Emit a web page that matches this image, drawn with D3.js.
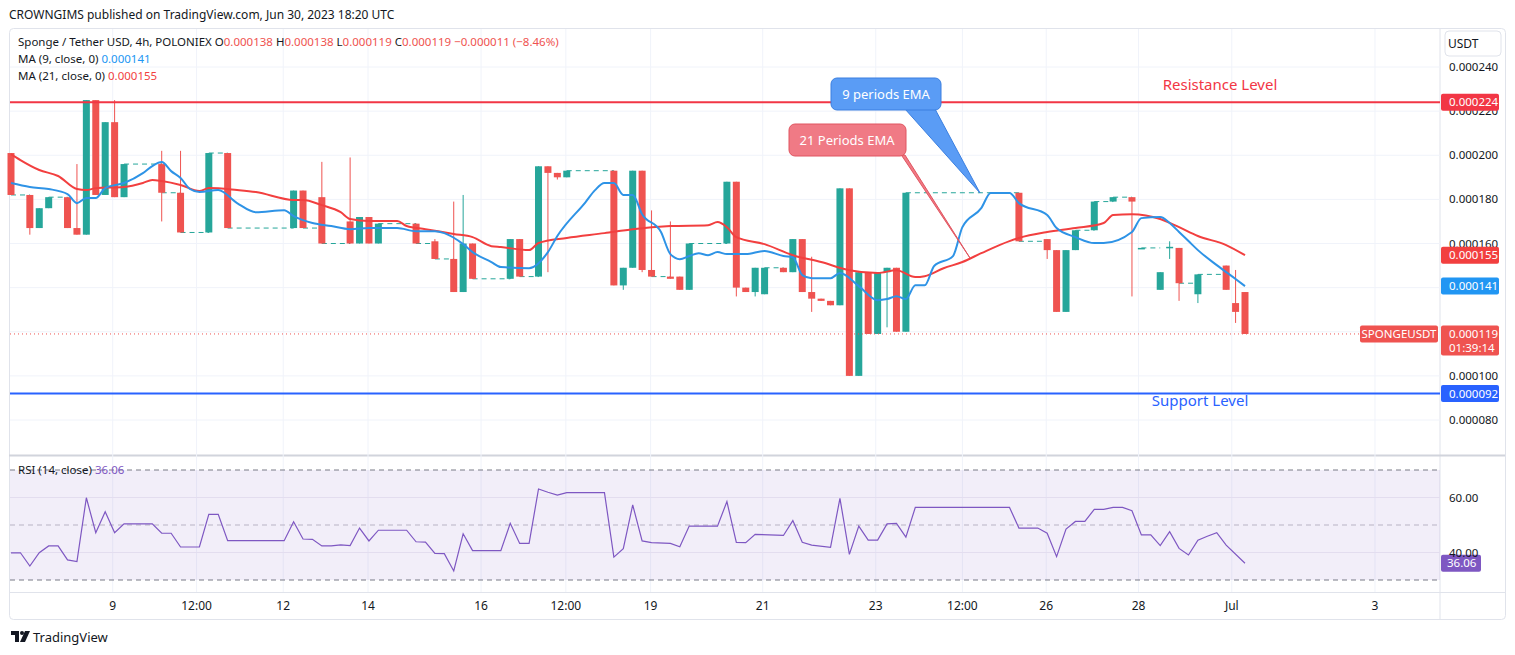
<!DOCTYPE html>
<html>
<head>
<meta charset="utf-8">
<script src="https://cdn.jsdelivr.net/npm/d3@7"></script>
<style>
  body { margin: 0; background: #fff; font-family: "Noto Sans", "DejaVu Sans", sans-serif; }
</style>
</head>
<body>
<div id="chart"></div>
<script>
// prices in millionths of USDT (µ), x as 4h bar index
var barIdx = [0,2,3,4,6,7,8,9,10,11,12,16,18,21,23,30,31,33,36,37,38,39,43,45,47,48,49,53,54,56,57,58,59,64,65,66,67,68,70,71,72,76,77,78,79,80,82,83,84,85,86,87,88,89,90,91,92,93,94,95,107,110,111,112,113,115,117,119,120,122,123,124,126,129,130,131];
var opens  = [201,182,167,176,181,167,164,225,182,215,181,196,183,165,201,167,184,181,170,160,172,160,169,161,153,138,160,144,162,145,195,192,190,193,141,149,193,148,145,145,139,160,188,140,138,137,149,147,162,138,135,134,132,185,100,147,119,147,149,120,183,162,157,129,157,166,179,181,158,139,158,158,137,150,133,138];
var highs  = [201,182,176,181,181,196,225,225,215,225,196,202,202,201,201,184,184,197,199,172,172,169,169,162,179,182,160,162,162,195,195,192,193,193,149,193,193,175,170,145,160,188,188,140,149,149,149,162,162,154,135,134,185,185,147,147,147,149,149,183,183,162,157,157,166,179,181,181,158,147,161,158,146,150,148,138];
var lows   = [182,164,167,176,167,164,164,182,182,181,181,170,165,165,167,167,167,160,160,160,160,160,160,153,138,138,144,144,145,145,147,189,190,141,139,149,147,145,144,139,139,160,136,138,136,137,147,147,138,129,134,132,132,100,100,119,119,122,120,120,161,153,129,129,157,166,179,136,158,139,153,134,133,139,124,119];
var closes = [182,167,176,181,167,164,225,182,215,181,196,183,165,201,167,184,167,160,160,172,160,169,160,153,138,160,144,162,145,195,192,190,193,141,149,193,148,145,144,139,160,188,140,138,149,149,147,162,138,135,134,132,185,100,147,119,147,149,120,183,161,157,129,157,166,179,181,179,158,147,158.5,142,146,139,129,119];

var ma9Idx  = [0,2,4,6,7,8,9,10,12,14,15,16,17,18,19,20,22,24,26,29,30,32,34,36,38,41,43,45,46,48,49,51,52,55,57,58,61,62,63,64,65,66,67,69,70,71,72,73,74,75,76,78,80,82,83,84,85,87,88,90,92,93,94,95,96,97,98,100,101,103,104,106,107,110,111,113,115,116,119,120,122,123,124,125,126,128,130,131];
var ma9Vals = [187.4,185.6,184.7,182.4,178.3,180.6,180.6,185.1,187.4,191.9,195.1,196.9,192.8,189.7,184.7,183.3,184.2,178.3,174.2,175.1,172.4,169.3,167.9,166.5,167,167,165.6,165.6,164.7,159.7,156.1,151.6,149.3,148.8,156.1,163.4,178.8,184.2,187.4,187.4,182,182,173.3,165.2,155.2,152.9,154.3,155.6,154.7,156.1,155.2,155.2,156.6,154.3,153.8,145.7,144.3,144.3,146.6,140.7,134.3,134.8,136.1,134.8,141.1,141.1,149.8,154.3,167.4,176,182.9,182.9,178.3,172.9,167,162.9,160.2,160.2,165.2,171.5,172,169.3,165.2,161.1,157,150.2,143.9,140.7];
var ma21Idx  = [0,1,3,5,7,8,9,12,14,15,16,18,20,21,24,26,30,31,33,35,36,38,41,42,44,47,49,51,52,55,56,59,63,66,70,74,75,76,77,80,83,86,89,92,94,96,97,99,101,103,106,107,110,113,116,117,119,122,124,126,129,131];
var ma21Vals = [200.5,197.8,193.3,190.6,184.7,184.2,185.1,185.6,187.4,188.8,188.3,186.5,183.8,185.1,184.2,183.3,179.7,179.7,177.4,174.2,171.1,170.2,170.2,167.9,166.5,164.3,162.9,158.8,158.4,157,160.2,162.5,164.7,166.5,167.9,168.3,169.7,167.4,162.9,159.7,154.7,151.6,147.9,146.6,147.9,144.8,145.2,148.8,151.6,155.6,161.1,162.5,165.2,167,169.3,172.9,173.3,171.1,167.4,163.4,159.3,154.7];

var rsiIdx  = [0,1,2,3,4,5,6,7,8,9,10,11,12,15,16,17,18,20,21,22,23,29,30,31,32,33,34,35,36,37,38,39,42,43,44,45,46,47,48,49,52,53,54,55,56,57,58,59,63,64,65,66,67,68,70,71,72,75,76,77,78,79,82,83,84,85,87,88,89,90,91,92,93,94,95,96,106,107,109,110,111,112,113,114,115,116,117,118,119,120,121,122,123,124,125,126,127,128,129,131];
var rsiVals = [39.9,39.9,35.1,39.9,42.4,42.4,37.3,36.7,59.9,47.2,54.8,47.2,50.4,50.4,47,47,42,42,53.9,53.9,44.3,44.3,51.2,44.9,44.8,42.4,42.4,42.8,42.5,48.9,44.2,48.1,48.1,43.9,43.8,39.7,39.6,33.3,46.8,40.7,40.7,50.6,43.3,43.3,63.1,61.9,60.9,61.8,61.8,38.3,41.4,57.3,44.2,43.6,43.3,42.1,49.6,49.6,58.5,43.7,43.6,46.6,46.2,51.6,43.7,42.7,41.9,59.7,39.3,49.6,44.5,44.5,50.4,50.6,45.6,56.4,56.4,48.9,48.9,47,38.5,48.5,51.3,51.3,55.7,55.7,56.4,56.4,55.2,46.4,46.4,42.5,47.6,41.5,39.1,44.5,45.9,47.2,42.7,36.1];

var priceTicks = [80,100,120,140,160,180,200,220,240];
var rsiTicks = [40,60];
var dateTickPos = [10.8,19.7,28.9,37.9,49.9,58.9,67.9,79.8,91.8,101,109.9,119.7,129.6,144.8];
var dateTickLabels = ["9","12:00","12","14","16","12:00","19","21","23","12:00","26","28","Jul","3"];

var resistance = 224, support = 92, lastPrice = 119;

var W = 1515, H = 655;
var green = "#26a69a", red = "#ef5350";
var svg = d3.select("#chart").append("svg").attr("width", W).attr("height", H)
  .style("font-family", "'Noto Sans', 'DejaVu Sans', sans-serif");

var x = d3.scaleLinear().domain([0, 131]).range([11, 1245]);
var y = d3.scaleLinear().domain([80, 240]).range([420, 67]);
var yr = d3.scaleLinear().domain([30, 70]).range([580, 470]);
var fmt = function(v) { return (v * 1e-6).toFixed(6); };

var L = 10, R = 1440;

// frame
svg.append("rect").attr("x", 9.5).attr("y", 28.5).attr("width", 1496).attr("height", 591)
  .attr("rx", 4).attr("fill", "none").attr("stroke", "#e0e3eb");
svg.append("line").attr("x1", R).attr("x2", R).attr("y1", 28).attr("y2", 620).attr("stroke", "#e0e3eb");
svg.append("line").attr("x1", 9).attr("x2", 1505).attr("y1", 455.5).attr("y2", 455.5).attr("stroke", "#d1d4dc").attr("stroke-width", 2);
svg.append("line").attr("x1", 9).attr("x2", 1505).attr("y1", 592.5).attr("y2", 592.5).attr("stroke", "#e0e3eb");

// grid
var grid = svg.append("g").attr("stroke", "#f0f3fa");
grid.selectAll(".gy").data(priceTicks).enter().append("line")
  .attr("x1", L).attr("x2", R).attr("y1", function(d) { return y(d); }).attr("y2", function(d) { return y(d); });
grid.selectAll(".gx").data(dateTickPos).enter().append("line")
  .attr("x1", function(d) { return x(d); }).attr("x2", function(d) { return x(d); })
  .attr("y1", 29).attr("y2", 592);

// rsi pane
svg.append("rect").attr("x", L).attr("width", R - L).attr("y", yr(70)).attr("height", yr(30) - yr(70))
  .attr("fill", "rgba(126,87,194,0.1)");
svg.selectAll(".rg").data(rsiTicks).enter().append("line")
  .attr("x1", L).attr("x2", R).attr("y1", function(d) { return yr(d); }).attr("y2", function(d) { return yr(d); })
  .attr("stroke", "#e3ddef");
[[70, "#787b86"], [50, "#b8b3c4"], [30, "#787b86"]].forEach(function(b) {
  svg.append("line").attr("x1", L).attr("x2", R).attr("y1", yr(b[0])).attr("y2", yr(b[0]))
    .attr("stroke", b[1]).attr("stroke-dasharray", "5,4");
});
svg.append("path").datum(rsiIdx.map(function(d, i) { return [d, rsiVals[i]]; }))
  .attr("fill", "none").attr("stroke", "#7e57c2").attr("stroke-width", 1.2)
  .attr("d", d3.line().x(function(d) { return x(d[0]); }).y(function(d) { return yr(d[1]); }));
svg.append("text").attr("x", 18).attr("y", 474).attr("font-size", 11.5).attr("fill", "#131722")
  .text("RSI (14, close)").append("tspan").attr("fill", "#7e57c2").text(" 36.06");

// gap lines (flat periods)
var gaps = svg.append("g");
barIdx.forEach(function(d, i) {
  if (i > 0 && d - barIdx[i - 1] > 1) {
    gaps.append("line").attr("x1", x(barIdx[i - 1])).attr("x2", x(d))
      .attr("y1", y(closes[i - 1])).attr("y2", y(closes[i - 1]))
      .attr("stroke", green).attr("stroke-dasharray", "5,4");
  }
});

// candles
var bw = 7;
var candles = svg.selectAll(".c").data(barIdx).enter().append("g");
candles.append("line")
  .attr("x1", function(d) { return x(d); }).attr("x2", function(d) { return x(d); })
  .attr("y1", function(d, i) { return y(highs[i]); }).attr("y2", function(d, i) { return y(lows[i]); })
  .attr("stroke", function(d, i) { return closes[i] >= opens[i] ? green : red; });
candles.append("rect")
  .attr("x", function(d) { return x(d) - bw / 2; }).attr("width", bw)
  .attr("y", function(d, i) { return y(Math.max(opens[i], closes[i])); })
  .attr("height", function(d, i) { return Math.max(1.5, Math.abs(y(opens[i]) - y(closes[i]))); })
  .attr("fill", function(d, i) { return closes[i] >= opens[i] ? green : red; });

// moving averages
function maPath(idx, vals, col) {
  svg.append("path").datum(idx.map(function(d, i) { return [d, vals[i]]; }))
    .attr("fill", "none").attr("stroke", col).attr("stroke-width", 2)
    .attr("d", d3.line().curve(d3.curveMonotoneX).x(function(d) { return x(d[0]); }).y(function(d) { return y(d[1]); }));
}
maPath(ma21Idx, ma21Vals, "#f23f3f");
maPath(ma9Idx, ma9Vals, "#2e93e6");

// levels
svg.append("line").attr("x1", L).attr("x2", R).attr("y1", y(resistance)).attr("y2", y(resistance))
  .attr("stroke", "#f23645").attr("stroke-width", 2);
svg.append("line").attr("x1", L).attr("x2", R).attr("y1", y(support)).attr("y2", y(support))
  .attr("stroke", "#2962ff").attr("stroke-width", 2);
svg.append("line").attr("x1", L).attr("x2", 1360).attr("y1", y(lastPrice)).attr("y2", y(lastPrice))
  .attr("stroke", red).attr("stroke-dasharray", "1,3");
svg.append("text").attr("x", 1220).attr("y", 90).attr("text-anchor", "middle").attr("font-size", 15)
  .attr("fill", "#f23645").text("Resistance Level");
svg.append("text").attr("x", 1200).attr("y", 406).attr("text-anchor", "middle").attr("font-size", 15)
  .attr("fill", "#2962ff").text("Support Level");

// callouts
svg.append("path").attr("d", "M880,155 L905,155 L970,258 L898,150 Z").attr("fill", "#f07a85").attr("stroke", "#e05560");
svg.append("rect").attr("x", 789).attr("y", 124).attr("width", 117).attr("height", 32).attr("rx", 6)
  .attr("fill", "#f07a85").attr("stroke", "#e05560");
svg.append("text").attr("x", 847).attr("y", 145).attr("text-anchor", "middle").attr("font-size", 13)
  .attr("fill", "#fff").text("21 Periods EMA");
svg.append("path").attr("d", "M905,109 L935,109 L980,193 Z").attr("fill", "#5a9cf5").attr("stroke", "#3a7fe0");
svg.append("rect").attr("x", 831).attr("y", 78).attr("width", 110).attr("height", 32).attr("rx", 6)
  .attr("fill", "#5a9cf5").attr("stroke", "#3a7fe0");
svg.append("text").attr("x", 886).attr("y", 99).attr("text-anchor", "middle").attr("font-size", 13)
  .attr("fill", "#fff").text("9 periods EMA");

// price axis
svg.append("rect").attr("x", 1445).attr("y", 31).attr("width", 56).attr("height", 25).attr("rx", 4)
  .attr("fill", "#fff").attr("stroke", "#e0e3eb");
svg.append("text").attr("x", 1448).attr("y", 48).attr("font-size", 12).attr("fill", "#131722").text("USDT");
svg.selectAll(".pt").data(priceTicks).enter().append("text")
  .attr("x", 1449).attr("y", function(d) { return y(d) + 4; }).attr("font-size", 11.5).attr("fill", "#131722")
  .text(function(d) { return fmt(d); });

function axisLabel(v, col, extra) {
  var h = extra ? 30 : 17;
  svg.append("rect").attr("x", 1441).attr("y", y(v) - 8.5).attr("width", 58).attr("height", h).attr("rx", 2).attr("fill", col);
  svg.append("text").attr("x", 1449).attr("y", y(v) + 4).attr("font-size", 11.5).attr("fill", "#fff").text(fmt(v));
  if (extra) svg.append("text").attr("x", 1449).attr("y", y(v) + 18).attr("font-size", 11.5).attr("fill", "#fff").text(extra);
}
axisLabel(resistance, "#f23645");
axisLabel(ma21Vals[ma21Vals.length - 1], "#f23f3f");
axisLabel(ma9Vals[ma9Vals.length - 1], "#2196f3");
axisLabel(lastPrice, "#ef5350", "01:39:14");
axisLabel(support, "#2962ff");
svg.append("rect").attr("x", 1360).attr("y", y(lastPrice) - 8.5).attr("width", 78).attr("height", 17).attr("rx", 2).attr("fill", red);
svg.append("text").attr("x", 1399).attr("y", y(lastPrice) + 4).attr("text-anchor", "middle").attr("font-size", 11.5)
  .attr("fill", "#fff").text("SPONGEUSDT");
svg.append("rect").attr("x", 1441).attr("y", yr(36.06) - 8.5).attr("width", 40).attr("height", 17).attr("rx", 2).attr("fill", "#7e57c2");
svg.append("text").attr("x", 1447).attr("y", yr(36.06) + 4).attr("font-size", 11.5).attr("fill", "#fff").text("36.06");
svg.selectAll(".rt").data(rsiTicks).enter().append("text")
  .attr("x", 1449).attr("y", function(d) { return yr(d) + 4; }).attr("font-size", 11.5).attr("fill", "#131722")
  .text(function(d) { return d.toFixed(2); });

// time axis
svg.selectAll(".dt").data(dateTickPos).enter().append("text")
  .attr("x", function(d) { return x(d); }).attr("y", 610).attr("text-anchor", "middle")
  .attr("font-size", 12).attr("fill", "#131722").text(function(d, i) { return dateTickLabels[i]; });

// header
svg.append("text").attr("x", 9).attr("y", 19).attr("font-size", 12).attr("fill", "#131722")
  .text("CROWNGIMS published on TradingView.com, Jun 30, 2023 18:20 UTC");
var hd = svg.append("text").attr("x", 18).attr("y", 46).attr("font-size", 11.5).attr("fill", "#131722");
hd.append("tspan").text("Sponge / Tether USD, 4h, POLONIEX  O");
hd.append("tspan").attr("fill", red).text("0.000138");
hd.append("tspan").text("  H");
hd.append("tspan").attr("fill", red).text("0.000138");
hd.append("tspan").text("  L");
hd.append("tspan").attr("fill", red).text("0.000119");
hd.append("tspan").text("  C");
hd.append("tspan").attr("fill", red).text("0.000119  \u22120.000011 (\u22128.46%)");
var m1 = svg.append("text").attr("x", 18).attr("y", 63).attr("font-size", 11.5).attr("fill", "#131722");
m1.append("tspan").text("MA (9, close, 0)  ");
m1.append("tspan").attr("fill", "#2196f3").text("0.000141");
var m2 = svg.append("text").attr("x", 18).attr("y", 80).attr("font-size", 11.5).attr("fill", "#131722");
m2.append("tspan").text("MA (21, close, 0)  ");
m2.append("tspan").attr("fill", "#f23f3f").text("0.000155");

// footer logo
var lg = svg.append("g").attr("transform", "translate(11,631)");
lg.append("path").attr("d", "M0,0 H8 V11 H4 V4 H0 Z").attr("fill", "#131722");
lg.append("circle").attr("cx", 11).attr("cy", 2).attr("r", 2).attr("fill", "#131722");
lg.append("path").attr("d", "M14,0 H19 L14,11 H9 Z").attr("fill", "#131722");
svg.append("text").attr("x", 33).attr("y", 642).attr("font-size", 13).attr("fill", "#131722").text("TradingView");
</script>
</body>
</html>
